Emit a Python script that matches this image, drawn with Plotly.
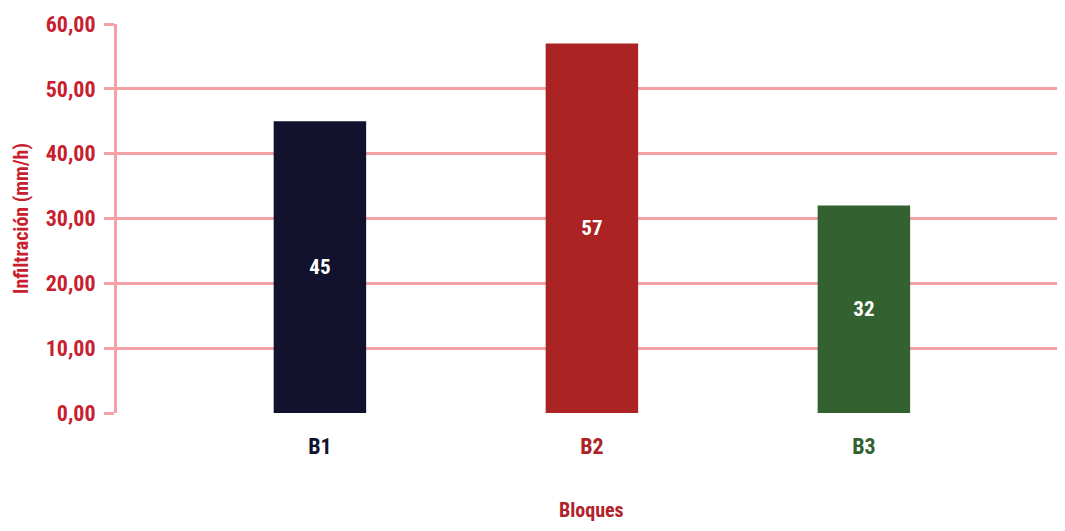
import plotly.graph_objects as go

categories = ["B1", "B2", "B3"]
values = [45, 57, 32]
bar_colors = ["#12122E", "#AC2323", "#336130"]
y_ticks = [0, 10, 20, 30, 40, 50, 60]

FONT = "Liberation Sans Narrow, Roboto Condensed, Roboto, Arial Narrow, sans-serif"
RED = "#C8202F"
GRID = "#F4A0A4"

ticktext = [f'<span style="color:{c}"><b>{cat}</b></span>' for cat, c in zip(categories, bar_colors)]

fig = go.Figure(go.Bar(
    x=list(range(len(categories))),
    y=values,
    marker=dict(color=bar_colors, line=dict(width=0)),
    width=0.34,
    text=[str(v) for v in values],
    textposition="inside",
    insidetextanchor="middle",
    textangle=0,
    textfont=dict(family=FONT, size=21, color="white", weight="bold"),
))

fig.add_annotation(
    text="<b>Bloques</b>", xref="x", yref="paper", x=1, y=0,
    yanchor="middle", yshift=-97, showarrow=False,
    font=dict(family=FONT, size=20, color="#B0232A"),
)

fig.update_layout(
    width=1049, height=515,
    margin=dict(l=109, r=0, t=16, b=110),
    plot_bgcolor="white", paper_bgcolor="white",
    separators=",.",
    showlegend=False,
    font=dict(family=FONT),
    xaxis=dict(
        range=[-0.746, 2.71],
        automargin=False,
        tickmode="array", tickvals=list(range(len(categories))), ticktext=ticktext,
        tickfont=dict(family=FONT, size=22),
        ticklabelstandoff=18,
        showgrid=False, zeroline=False, showline=False, ticks="",
    ),
    yaxis=dict(
        range=[0, 60], tickvals=y_ticks, tickformat=".2f",
        automargin=False,
        tickfont=dict(family=FONT, size=22, color=RED, weight="bold"),
        ticklabelstandoff=4,
        showgrid=True, gridcolor=GRID, gridwidth=3,
        showline=True, linecolor=GRID, linewidth=3,
        ticks="outside", tickcolor=GRID, ticklen=10, tickwidth=3,
        zeroline=False,
        title=dict(text="<b>Infiltración (mm/h)</b>", font=dict(family=FONT, size=20, color=RED), standoff=12),
    ),
)

fig.write_html("out.html")
